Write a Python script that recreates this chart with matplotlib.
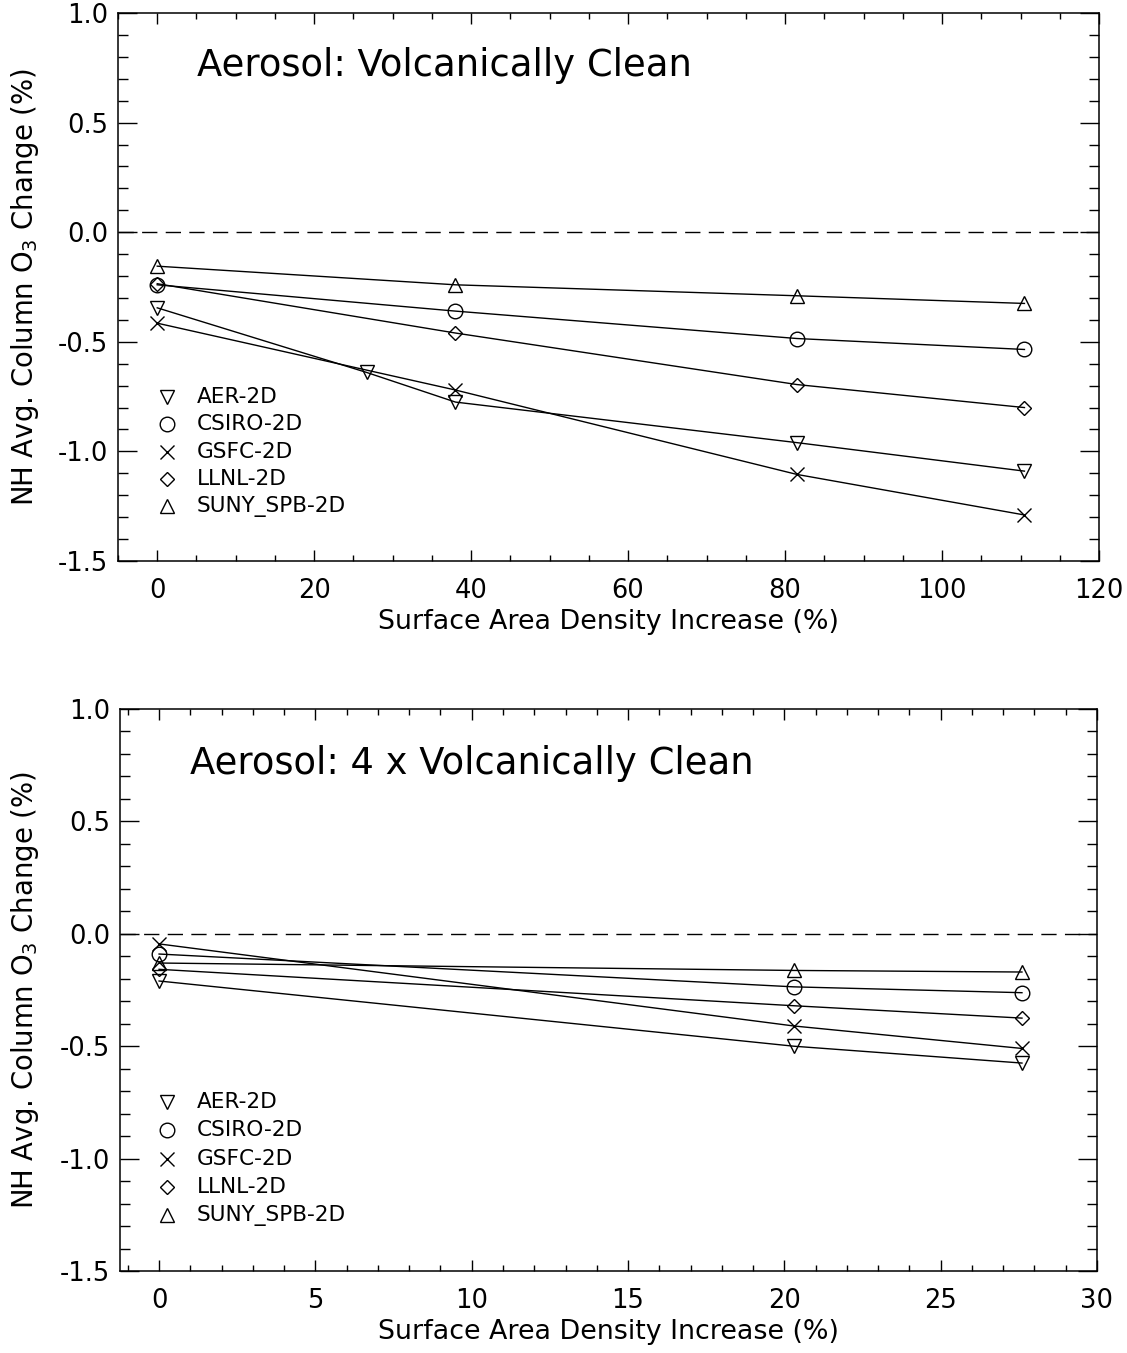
import matplotlib
matplotlib.use("Agg")
import matplotlib.pyplot as plt
from matplotlib.ticker import MultipleLocator

plt.rcParams['font.family'] = ['DejaVu Sans']
plt.rcParams['mathtext.fontset'] = 'dejavusans'
plt.rcParams['axes.unicode_minus'] = False

models = ["AER-2D", "CSIRO-2D", "GSFC-2D", "LLNL-2D", "SUNY_SPB-2D"]
markers = ["v", "o", "x", "D", "^"]

# Panel 1: volcanically clean aerosol
clean_x = {
    "AER-2D": [0, 26.7, 38, 81.5, 110.5],
    "CSIRO-2D": [0, 38, 81.5, 110.5],
    "GSFC-2D": [0, 38, 81.5, 110.5],
    "LLNL-2D": [0, 38, 81.5, 110.5],
    "SUNY_SPB-2D": [0, 38, 81.5, 110.5],
}
clean_y = {
    "AER-2D": [-0.345, -0.64, -0.775, -0.96, -1.09],
    "CSIRO-2D": [-0.24, -0.36, -0.485, -0.535],
    "GSFC-2D": [-0.415, -0.72, -1.105, -1.29],
    "LLNL-2D": [-0.235, -0.46, -0.695, -0.80],
    "SUNY_SPB-2D": [-0.155, -0.24, -0.29, -0.325],
}

# Panel 2: 4 x volcanically clean aerosol
dirty_x = [0, 20.3, 27.6]
dirty_y = {
    "AER-2D": [-0.21, -0.50, -0.575],
    "CSIRO-2D": [-0.09, -0.236, -0.262],
    "GSFC-2D": [-0.045, -0.41, -0.51],
    "LLNL-2D": [-0.158, -0.32, -0.375],
    "SUNY_SPB-2D": [-0.13, -0.163, -0.17],
}

titles = ["Aerosol: Volcanically Clean", "Aerosol: 4 x Volcanically Clean"]
xlabel = "Surface Area Density Increase (%)"
ylabel = "NH Avg. Column O$_3$ Change (%)"

W, H = 1127, 1353
fig = plt.figure(figsize=(W / 100, H / 100), dpi=100)

# axes boxes in pixels: left, top, right, bottom
boxes = [(118, 13, 1099, 561), (120, 709, 1097, 1271)]
axes = []
for (l, t, r, b) in boxes:
    axes.append(fig.add_axes([l / W, 1 - b / H, (r - l) / W, (b - t) / H]))
ax1, ax2 = axes

msizes = {"v": 10.5, "o": 10.5, "x": 10.5, "D": 7.5, "^": 10.5}


def style_axes(ax, box, xlim, xmaj, xmin_):
    l, t, r, b = box
    w, h = r - l, b - t
    ax.set_xlim(*xlim)
    ax.set_ylim(-1.5, 1.0)
    ax.xaxis.set_major_locator(MultipleLocator(xmaj))
    ax.xaxis.set_minor_locator(MultipleLocator(xmin_))
    ax.yaxis.set_major_locator(MultipleLocator(0.5))
    ax.yaxis.set_minor_locator(MultipleLocator(0.1))
    ax.yaxis.set_major_formatter(plt.FuncFormatter(lambda v, p: f"{v:.1f}"))
    ax.tick_params(which="both", direction="in", top=True, right=True,
                   width=1.0, labelsize=18.5, colors="black")
    ax.tick_params(axis="y", which="major", length=13.5, pad=7)
    ax.tick_params(axis="y", which="minor", length=7)
    ax.tick_params(axis="x", which="major", length=8, pad=12)
    ax.tick_params(axis="x", which="minor", length=4)
    for s in ax.spines.values():
        s.set_linewidth(1.1)
    ax.axhline(0.0, color="black", lw=1.0, ls=(0, (11, 6)))
    ax.set_xlabel(xlabel, fontsize=19.4)
    ax.xaxis.label.set_verticalalignment("center")
    ax.xaxis.set_label_coords(0.5, -61 / h)
    ax.set_ylabel(ylabel, fontsize=19.8)
    ax.yaxis.label.set_verticalalignment("center")
    ax.yaxis.set_label_coords(-(l - 25) / w, 0.5)


style_axes(ax1, boxes[0], (-5, 120), 20, 5)
style_axes(ax2, boxes[1], (-1.25, 30), 5, 1)

for m, mk in zip(models, markers):
    ax1.plot(clean_x[m], clean_y[m], color="black", lw=1.0, marker=mk,
             ms=msizes[mk], mfc="none", mec="black", mew=1.0)
    ax2.plot(dirty_x, dirty_y[m], color="black", lw=1.0, marker=mk,
             ms=msizes[mk], mfc="none", mec="black", mew=1.0)

# titles and marker keys, positioned in pixels relative to each box
title_pos = [(197, 65), (190, 763)]
key_rows = [(397, 27.3), (1102, 28.3)]
for ax, box, title, (tx, ty), (ky, kdy) in zip(axes, boxes, titles,
                                               title_pos, key_rows):
    l, t, r, b = box
    w, h = r - l, b - t
    ax.text((tx - l) / w, (b - ty) / h, title, transform=ax.transAxes,
            fontsize=26.6, ha="left", va="center")
    for i, (m, mk) in enumerate(zip(models, markers)):
        yy = (b - (ky + i * kdy)) / h
        ax.plot([(167 - l) / w], [yy], transform=ax.transAxes, ls="none",
                marker=mk, ms=msizes[mk], mfc="none", mec="black", mew=1.0,
                clip_on=False)
        ax.text((197 - l) / w, yy, m, transform=ax.transAxes, fontsize=15.6,
                ha="left", va="center")

fig.savefig("out.png", dpi=100)
